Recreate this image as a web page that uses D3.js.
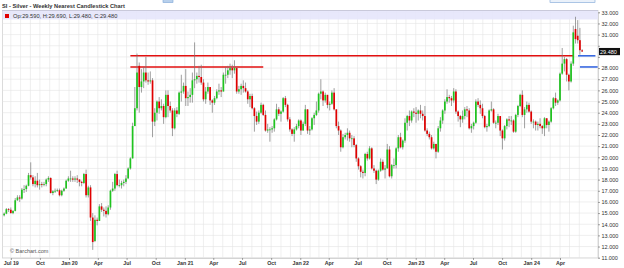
<!DOCTYPE html>
<html>
<head>
<meta charset="utf-8">
<script src="https://cdn.jsdelivr.net/npm/d3@7"></script>
<style>
  body { margin: 0; background: #fff; }
  svg { display: block; font-family: "Liberation Sans", Arial, sans-serif; }
</style>
</head>
<body>
<svg id="chart" width="624" height="268"></svg>
<script>
// weekly candles, first week starts Mon 10 Jun 2019
var firstWeek = "2019-06-10";

var opens = [
  14.80,14.95,15.35,15.30,15.00,15.20,16.15,16.40,16.30,17.10,17.15,17.45,18.40,18.20,17.60,17.90,17.50,17.60,17.55,17.60,18.00,18.15,16.80,16.95,17.00,17.05,16.60,17.00,17.20,17.90,
  18.10,18.10,18.00,18.10,18.00,17.80,17.70,18.50,16.60,17.30,14.60,12.50,14.40,14.30,15.60,15.30,15.20,14.90,15.50,17.00,17.20,18.50,17.50,17.50,17.70,17.80,18.10,19.00,19.90,22.80,24.40,28.20,26.30,26.80,27.60,26.90,26.80,26.90,23.20,24.00,25.00,24.40,24.60,23.60,25.60,24.60,24.20,22.60,24.20,23.90,25.80,25.90,
  26.40,25.30,25.40,25.60,26.90,27.00,27.30,27.20,26.70,25.20,25.90,26.30,25.10,24.90,25.30,25.90,26.00,25.90,27.40,27.40,27.80,28.00,27.80,28.00,25.90,26.10,26.40,26.20,25.90,25.20,25.50,24.40,23.70,23.20,24.00,24.70,23.80,22.40,22.50,22.50,22.60,23.40,24.30,23.90,24.10,25.30,24.70,23.40,22.50,22.10,22.50,22.80,
  23.30,22.40,23.00,24.30,22.40,22.50,23.50,23.80,24.20,25.70,25.90,25.10,25.60,24.70,24.80,25.80,24.30,22.80,22.40,20.90,21.80,22.00,22.20,21.70,21.70,21.10,19.90,19.20,18.70,18.60,20.30,19.90,20.80,19.00,18.80,18.00,18.80,19.60,18.90,19.00,20.70,18.30,19.30,19.30,20.80,21.80,20.90,21.50,23.10,23.70,23.30,24.10,
  24.00,23.90,24.20,23.90,23.70,22.40,22.10,21.80,20.80,21.20,20.50,22.60,23.30,24.20,25.00,25.40,25.30,25.10,25.90,24.10,23.70,23.40,23.70,24.30,24.20,22.60,22.80,23.10,25.00,24.70,24.40,23.70,22.70,22.80,24.20,24.30,23.10,23.10,23.70,22.40,21.70,22.80,23.40,23.30,23.30,22.30,23.80,24.60,25.60,23.80,24.30,24.70,
  24.10,23.20,23.20,22.90,23.00,22.80,22.60,23.50,22.90,23.20,24.40,25.30,24.90,25.10,27.50,28.40,28.80,27.40,26.80,28.40,31.50,30.90,30.50,29.59
];
var highs = [
  15.05,15.45,15.45,15.50,15.25,16.35,16.60,16.60,17.25,17.50,17.55,18.60,19.55,18.40,18.30,18.60,18.00,17.80,17.80,18.10,18.30,18.20,17.05,17.20,17.20,17.20,17.10,17.30,18.00,18.30,
  18.80,18.30,18.30,18.40,18.05,17.90,18.60,18.90,17.45,17.50,15.00,14.80,14.60,15.80,15.90,15.50,15.60,15.70,17.10,17.80,18.60,18.80,18.00,17.90,18.00,18.40,19.10,20.00,23.10,26.30,29.30,28.50,27.90,28.10,29.00,27.60,27.70,27.10,24.40,25.10,25.40,25.20,24.80,26.00,26.00,25.00,24.40,24.40,24.50,25.90,27.40,26.70,
  27.90,25.90,26.20,27.60,30.30,27.60,28.20,28.30,27.00,26.30,26.70,26.30,25.20,25.50,26.10,26.60,26.30,27.60,28.10,28.20,28.40,28.30,28.70,28.10,26.40,26.60,26.90,26.70,26.00,25.70,25.70,24.50,24.10,24.20,24.90,24.80,24.20,23.00,22.70,22.80,23.50,24.80,24.50,24.20,25.40,25.50,24.80,23.60,22.60,22.70,23.00,23.40,
  23.40,23.20,24.70,24.30,22.80,23.60,24.00,25.00,25.80,27.00,26.00,25.80,25.60,25.00,26.00,26.20,24.30,23.20,22.50,22.10,22.20,22.60,22.40,22.00,21.90,21.20,20.00,19.30,18.90,20.40,20.50,21.00,20.90,19.30,18.90,18.90,19.90,19.80,19.30,21.20,21.00,19.40,19.90,20.90,22.00,22.20,21.60,23.50,23.80,24.20,24.20,24.40,
  24.50,24.30,24.70,24.20,24.60,22.60,22.30,22.00,21.40,21.20,22.80,23.60,24.30,25.20,26.10,25.60,25.50,26.20,26.10,24.20,23.80,24.20,24.50,24.60,24.40,23.00,23.20,25.20,25.30,25.10,24.80,23.80,23.00,24.30,25.00,24.40,23.30,23.90,23.70,22.50,22.90,23.50,23.70,23.70,23.40,23.90,24.70,25.70,26.00,24.50,25.00,24.90,
  24.20,23.40,23.30,23.20,23.50,22.90,23.60,23.50,23.30,24.50,25.40,25.80,25.20,27.60,29.80,29.00,28.90,27.50,28.60,31.80,32.60,32.30,31.60,29.69
];
var lows = [
  14.70,14.90,15.10,14.95,14.90,15.15,16.10,16.00,16.20,16.80,16.90,17.40,18.00,17.40,17.30,17.30,17.10,17.30,17.40,17.40,17.80,16.75,16.60,16.80,16.90,16.50,16.50,16.90,17.20,17.80,
  17.80,17.80,17.80,17.70,17.40,17.40,17.60,16.40,16.40,14.30,11.70,12.40,13.90,14.30,15.10,14.70,14.60,14.80,15.30,16.90,17.00,17.40,17.30,17.20,17.40,17.60,18.10,18.90,19.90,22.80,24.20,24.00,25.80,26.20,26.70,26.50,26.60,21.80,22.80,23.30,23.90,24.20,23.00,23.50,23.60,24.00,21.90,22.50,23.60,23.80,25.00,25.70,
  24.60,24.60,24.90,24.90,26.20,26.60,26.70,26.50,25.00,24.80,25.70,24.70,24.00,24.70,25.20,25.60,25.40,25.90,26.60,27.10,27.40,27.10,27.50,25.70,25.70,25.60,25.80,25.80,24.80,24.50,24.30,22.30,22.90,23.00,23.90,23.70,22.30,22.20,21.40,22.20,22.30,23.30,23.70,23.20,24.00,24.50,23.20,22.30,21.90,21.40,22.40,22.60,
  22.00,22.40,22.80,22.10,22.00,22.40,22.90,23.70,24.00,25.20,24.60,24.90,24.40,24.20,24.70,24.20,22.60,22.00,20.50,20.80,21.60,21.50,21.40,20.90,20.90,19.60,18.90,18.20,18.10,18.30,19.70,19.80,18.90,18.60,17.60,17.90,18.70,18.80,18.10,19.00,18.20,18.10,19.00,19.00,20.50,20.80,20.70,21.30,22.40,22.80,23.10,23.60,
  23.10,23.30,23.50,23.30,22.30,21.90,21.60,20.70,20.70,19.90,20.40,22.30,23.00,23.90,24.80,24.90,24.60,24.90,23.90,23.20,22.70,23.10,23.40,23.60,22.50,22.20,22.50,23.00,24.50,23.90,23.50,22.60,22.30,22.70,24.10,23.00,22.60,22.90,21.90,20.70,21.50,22.50,22.70,22.90,22.20,22.20,23.60,24.50,23.60,22.60,24.00,24.00,
  23.00,22.60,22.40,22.40,22.60,22.10,21.90,22.60,22.30,23.10,24.30,24.60,24.70,25.00,27.40,27.70,26.80,26.00,26.70,28.20,30.20,30.20,29.20,29.48
];
var closes = [
  14.95,15.35,15.30,15.00,15.20,16.15,16.40,16.30,17.10,17.15,17.45,18.40,18.20,17.60,17.90,17.50,17.60,17.55,17.60,18.00,18.15,16.80,16.95,17.00,17.05,16.60,17.00,17.20,17.90,18.10,
  18.10,18.00,18.10,18.00,17.80,17.70,18.50,16.60,17.30,14.60,12.40,14.40,14.30,15.60,15.30,15.20,14.90,15.50,17.00,17.20,18.50,17.50,17.50,17.70,17.80,18.10,19.00,19.90,22.80,24.40,27.60,26.30,26.80,27.60,26.90,26.80,26.90,23.20,24.00,25.00,24.40,24.60,23.60,25.60,24.60,24.20,22.60,24.20,23.90,25.80,25.90,26.40,
  25.30,25.40,25.60,26.90,27.00,27.30,27.20,26.70,25.20,25.90,26.30,25.10,24.90,25.30,25.90,26.00,25.90,27.40,27.40,27.80,28.00,27.80,28.00,25.90,26.10,26.40,26.20,25.90,25.20,25.50,24.40,23.70,23.20,24.00,24.70,23.80,22.40,22.50,22.50,22.60,23.40,24.30,23.90,24.10,25.30,24.70,23.40,22.50,22.10,22.50,22.80,23.30,
  22.40,23.00,24.30,22.40,22.50,23.50,23.80,24.20,25.70,25.90,25.10,25.60,24.70,24.80,25.80,24.30,22.80,22.40,20.90,21.80,22.00,22.20,21.70,21.70,21.10,19.90,19.20,18.70,18.60,20.30,19.90,20.80,19.00,18.80,18.00,18.80,19.60,18.90,19.00,20.70,18.30,19.30,19.30,20.80,21.80,20.90,21.50,23.10,23.70,23.30,24.10,24.00,
  23.90,24.20,23.90,23.70,22.40,22.10,21.80,20.80,21.20,20.50,22.60,23.30,24.20,25.00,25.40,25.30,25.10,25.90,24.10,23.70,23.40,23.70,24.30,24.20,22.60,22.80,23.10,25.00,24.70,24.40,23.70,22.70,22.80,24.20,24.30,23.10,23.10,23.70,22.40,21.70,22.80,23.40,23.30,23.30,22.30,23.80,24.60,25.60,23.80,24.30,24.70,24.10,
  23.20,23.20,22.90,23.00,22.80,22.60,23.50,22.90,23.20,24.40,25.30,24.90,25.10,27.50,28.40,28.80,27.40,26.80,28.40,31.20,30.60,30.50,29.60,29.48
];

// drawn support / resistance lines
var lineLevels = [29.1, 28.1];
var lineFrom   = ["2020-07-13", "2020-07-13"];
var lineTo     = ["2024-05-15", "2021-09-06"];
// short blue markers on the right
var markLevels = [29.1, 28.1];
var markFrom   = ["2024-05-28", "2024-06-03"];
var markTo     = ["2024-07-22", "2024-07-29"];

var yTicks = d3.range(11, 34);
var xTickLabels = ["Jul 19","Oct","Jan 20","Apr","Jul","Oct","Jan 21","Apr","Jul","Oct",
                   "Jan 22","Apr","Jul","Oct","Jan 23","Apr","Jul","Oct","Jan 24","Apr"];

var title = "SI - Silver - Weekly Nearest Candlestick Chart";
var last = {o: 29.590, h: 29.690, l: 29.480, c: 29.480};

// ---- layout
var plot = {left: 2.5, right: 598, top: 10.5, bottom: 258};
var svg = d3.select("#chart");
var parse = d3.utcParse("%Y-%m-%d");
var start = parse(firstWeek);
var weeks = closes.map(function(c, i) {
  return {date: d3.utcDay.offset(start, i * 7), o: opens[i], h: highs[i], l: lows[i], c: c};
});

var x = d3.scaleUtc()
    .domain([new Date(Date.UTC(2019, 6, 1)), new Date(Date.UTC(2024, 3, 1))])
    .range([10.8, 560]);
var y = d3.scaleLinear().domain([11, 33]).range([257.7, 12.3]);

var xTickDates = d3.utcMonth.every(3).range(new Date(Date.UTC(2019, 6, 1)), new Date(Date.UTC(2024, 4, 1)));

// top-right toolbar remnants
svg.append("rect").attr("x", 163).attr("y", -2).attr("width", 10).attr("height", 4.5)
  .attr("fill", "#b8d0ec").attr("stroke", "#7aa4d6").attr("stroke-width", 0.6);
svg.append("rect").attr("x", 550).attr("y", -2).attr("width", 45).attr("height", 4.5)
  .attr("fill", "#eaf1fa").attr("stroke", "#7aa4d6").attr("stroke-width", 0.6);

svg.append("text").attr("x", 2).attr("y", 8).attr("font-size", 5.7).attr("font-weight", "bold")
  .attr("fill", "#333").text(title);

// plot background + grid
svg.append("rect").attr("x", plot.left).attr("y", plot.top)
  .attr("width", plot.right - plot.left).attr("height", plot.bottom - plot.top)
  .attr("fill", "#fff").attr("stroke", "#c4c4c4").attr("stroke-width", 0.6);

var grid = svg.append("g").attr("stroke", "#e4e4e4").attr("stroke-width", 0.6);
grid.selectAll(".hg").data(yTicks).enter().append("line")
  .attr("x1", plot.left).attr("x2", plot.right)
  .attr("y1", function(d) { return y(d); }).attr("y2", function(d) { return y(d); });
var months = d3.utcMonth.range(new Date(Date.UTC(2019, 6, 1)), new Date(Date.UTC(2024, 6, 1)));
grid.selectAll(".vg").data(months).enter().append("line")
  .attr("y1", plot.top).attr("y2", plot.bottom)
  .attr("x1", function(d) { return x(d); }).attr("x2", function(d) { return x(d); });

// legend band
svg.append("rect").attr("x", plot.left).attr("y", plot.top)
  .attr("width", plot.right - plot.left).attr("height", 9)
  .attr("fill", "#e6e6fb").attr("fill-opacity", 0.9);
svg.append("line").attr("x1", plot.left).attr("x2", plot.right)
  .attr("y1", plot.top).attr("y2", plot.top).attr("stroke", "#b8b8d0").attr("stroke-width", 0.6);
svg.append("rect").attr("x", 5).attr("y", 14).attr("width", 4).attr("height", 4)
  .attr("fill", last.c < last.o ? "#e00000" : "#1db91d");
var f3 = d3.format(".3f");
svg.append("text").attr("x", 13).attr("y", 18.2).attr("font-size", 5.7).attr("fill", "#333")
  .text("Op:" + f3(last.o) + ", H:" + f3(last.h) + ", L:" + f3(last.l) + ", C:" + f3(last.c));

svg.append("text").attr("x", 10).attr("y", 253).attr("font-size", 5.5).attr("fill", "#555")
  .text("\u00a9 Barchart.com");

// red lines
svg.append("g").selectAll("line").data(lineLevels).enter().append("line")
  .attr("x1", function(d, i) { return x(parse(lineFrom[i])); })
  .attr("x2", function(d, i) { return x(parse(lineTo[i])); })
  .attr("y1", function(d) { return y(d); }).attr("y2", function(d) { return y(d); })
  .attr("stroke", "#e21010").attr("stroke-width", 1.6);

// candles
var bw = 1.7;
var candle = svg.append("g").selectAll("g").data(weeks).enter().append("g");
candle.append("line")
  .attr("x1", function(d) { return x(d.date); }).attr("x2", function(d) { return x(d.date); })
  .attr("y1", function(d) { return y(d.h); }).attr("y2", function(d) { return y(d.l); })
  .attr("stroke", "#777").attr("stroke-width", 0.7);
candle.append("rect")
  .attr("x", function(d) { return x(d.date) - bw / 2; })
  .attr("width", bw)
  .attr("y", function(d) { return y(Math.max(d.o, d.c)); })
  .attr("height", function(d) { return Math.max(0.8, Math.abs(y(d.o) - y(d.c))); })
  .attr("fill", function(d) { return d.c >= d.o ? "#1fc41f" : "#e00000"; });

// blue markers
svg.append("g").selectAll("line").data(markLevels).enter().append("line")
  .attr("x1", function(d, i) { return x(parse(markFrom[i])); })
  .attr("x2", function(d, i) { return x(parse(markTo[i])); })
  .attr("y1", function(d) { return y(d); }).attr("y2", function(d) { return y(d); })
  .attr("stroke", "#3868e0").attr("stroke-width", 1.6);

// right price axis
var yAxis = svg.append("g").attr("transform", "translate(" + plot.right + ",0)")
  .call(d3.axisRight(y).tickValues(yTicks).tickFormat(f3).tickSize(2).tickPadding(1.5));
yAxis.select(".domain").attr("stroke", "#c4c4c4").attr("stroke-width", 0.6);
yAxis.selectAll(".tick line").attr("stroke", "#666").attr("stroke-width", 0.6);
yAxis.selectAll(".tick text").attr("font-size", 5.5).attr("fill", "#333")
  .attr("font-family", "Liberation Sans, Arial, sans-serif")
  .style("display", function(d) { return Math.abs(y(d) - y(last.c)) < 6 ? "none" : null; });

// last price tag
svg.append("rect").attr("x", plot.right + 1).attr("y", y(last.c) - 3.6)
  .attr("width", 21).attr("height", 7.2).attr("fill", "#111");
svg.append("text").attr("x", plot.right + 2).attr("y", y(last.c) + 2)
  .attr("font-size", 5.5).attr("fill", "#fff").text(f3(last.c));

// bottom date axis
var xAxis = svg.append("g").attr("transform", "translate(0," + plot.bottom + ")")
  .call(d3.axisBottom(x).tickValues(xTickDates)
    .tickFormat(function(d, i) { return xTickLabels[i]; }).tickSize(2).tickPadding(1));
xAxis.select(".domain").attr("stroke", "#c4c4c4").attr("stroke-width", 0.6);
xAxis.selectAll(".tick line").attr("stroke", "#666").attr("stroke-width", 0.6);
xAxis.selectAll(".tick text").attr("font-size", 5.3).attr("font-weight", "bold").attr("fill", "#333")
  .attr("font-family", "Liberation Sans, Arial, sans-serif");
</script>
</body>
</html>
